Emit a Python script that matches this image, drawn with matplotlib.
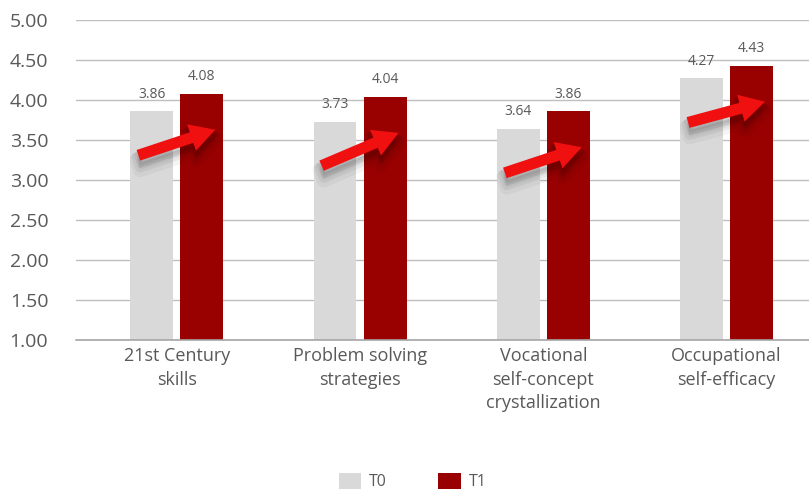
import matplotlib.pyplot as plt
import numpy as np

categories = ["21st Century\nskills", "Problem solving\nstrategies",
              "Vocational\nself-concept\ncrystallization", "Occupational\nself-efficacy"]
t0 = [3.86, 3.73, 3.64, 4.27]
t1 = [4.08, 4.04, 3.86, 4.43]
series_names = ["T0", "T1"]

plt.rcParams['font.family'] = ['Open Sans', 'DejaVu Sans']
TXT = '#595959'

fig = plt.figure(figsize=(8.09, 4.90), dpi=100)
ax = fig.add_axes([0.094, 0.306, 0.906, 0.653])

x = np.arange(len(categories))
w = 0.234
off = 0.137
b0 = ax.bar(x - off, t0, w, color='#d9d9d9', label=series_names[0], zorder=2)
b1 = ax.bar(x + off, t1, w, color='#990000', label=series_names[1], zorder=2)

ax.bar_label(b0, labels=['%.2f' % v for v in t0], padding=7, color=TXT, fontsize=10)
ax.bar_label(b1, labels=['%.2f' % v for v in t1], padding=7, color=TXT, fontsize=10)

# red trend arrows from T0 to T1 with a soft shadow
for i in range(len(categories)):
    start = (x[i] - 0.21, t0[i] - 0.55)
    end = (x[i] + 0.21, t1[i] - 0.45)
    style = "simple,head_width=1.0,head_length=0.9,tail_width=0.4"
    for k, a in enumerate([0.06, 0.05, 0.04]):
        ax.annotate("", xy=(end[0], end[1] - 0.06 - 0.03 * k), xytext=(start[0], start[1] - 0.06 - 0.03 * k),
                    arrowprops=dict(arrowstyle=style, color='black', alpha=a, lw=4 + 3 * k,
                                    mutation_scale=20, shrinkA=0, shrinkB=0), zorder=3)
    ax.annotate("", xy=end, xytext=start,
                arrowprops=dict(arrowstyle=style, color='#f01010', lw=0,
                                mutation_scale=20, shrinkA=0, shrinkB=0), zorder=4)

ax.set_ylim(1.0, 5.0)
ax.set_xlim(-0.55, 3.45)
ax.set_yticks(np.arange(1.0, 5.01, 0.5))
ax.set_yticklabels(['%.2f' % v for v in np.arange(1.0, 5.01, 0.5)])
ax.yaxis.grid(True, color='#bfbfbf', linewidth=1, zorder=0)
ax.set_axisbelow(True)
ax.set_xticks(x)
ax.set_xticklabels(categories, linespacing=1.4)
ax.tick_params(axis='y', length=0, pad=20, labelsize=14, labelcolor=TXT)
ax.tick_params(axis='x', length=0, pad=5, labelsize=13, labelcolor=TXT)
for s in ['top', 'right', 'left']:
    ax.spines[s].set_visible(False)
ax.spines['bottom'].set_color('#a6a6a6')
ax.spines['bottom'].set_linewidth(1.2)

fig.legend(handles=[b0, b1], labels=series_names, loc='lower center',
           bbox_to_anchor=(0.51, -0.03), ncol=2, frameon=False,
           handlelength=1.4, handleheight=1.2, columnspacing=3.2,
           handletextpad=0.5, fontsize=11.5, labelcolor=TXT)

fig.savefig('out.png', dpi=100)
